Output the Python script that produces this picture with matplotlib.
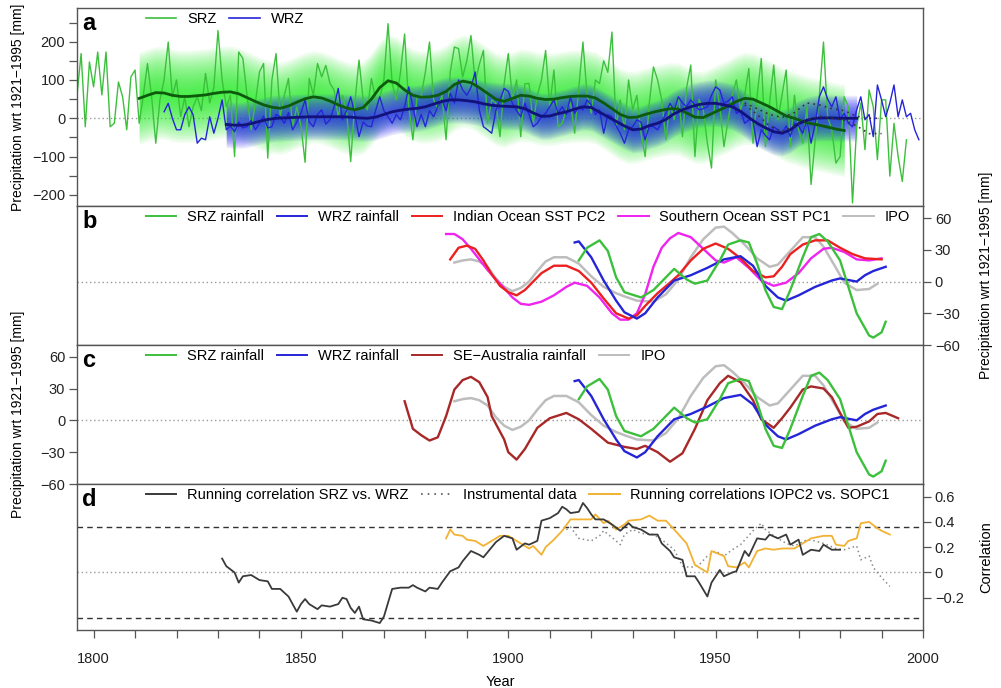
import numpy as np
import matplotlib.pyplot as plt
from matplotlib.lines import Line2D

plt.rcParams['font.family'] = ['Liberation Sans', 'DejaVu Sans']
plt.rcParams['font.size'] = 10.5

# ---------------- panel a: annual series ----------------
srz_start = 1796
srz = [60, 169, -22, 147,
       82, 173, 61, 173, -22, -13, 95, 56, -30, 108,
       126, -13, 60, 143, 56, -65, 48, 100, 199, 56,
       100, 4, 56, -22, 30, 56, 20, 117, 40, 80,
       229, 100, 30, 60, -100, 173, 156, 60, -30, 40,
       121, 143, -104, 100, 169, 4, 60, 104, -22, 30,
       -20, -115, 104, 60, 143, 108, 138, 91, 74, 4,
       60, 20, -113, 40, 152, 48, 22, 104, 50, 52,
       100, 247, 91, 48, 120, 220, 30, -56, 56, 60,
       120, 199, 48, 26, 60, -56, 120, 186, 182, 108,
       150, 216, 95, 140, 177, -13, 48, 40, -48, 90,
       169, 48, 100, -48, 90, 91, -13, 60, 100, 177,
       30, 126, -22, -13, 22, 40, -39, 80, 199, 60,
       13, 100, 91, 150, 120, 225, -22, 48, -30, 100,
       22, 60, -39, -100, 40, 134, 100, 48, -56, 40,
       -4, 60, -48, 80, 139, -100, 50, 22, -65, -130,
       100, 30, -74, -4, 60, 100, 22, 60, 130, -65,
       60, 156, -74, 40, 139, -4, 60, 126, -74, 60,
       -30, -65, 30, -173, -56, 60, 199, 4, -30, -117,
       -100, 56, 30, -221, -22, 40, -82, 74, 30, -108,
       48, 48, -151, -13, -100, -165, -56]

wrz_start = 1817
wrz = [17, 39, 0,
       -30, -30, 10, 30, 9, -65, -52, -56, 4, -39,
       0, 48, -30, -20, -35, -10, -25, -22, -5, -30,
       -13, 5, -25, -22, 10, 4, -13, 15, -30, -10,
       13, 48, -10, -22, 10, 22, -15, -4, 30, 78,
       -4, 20, 56, 10, -48, -10, -20, -22, 20, 56,
       20, 4, -13, 10, -4, 30, 82, 30, -22, 10,
       -22, 20, 4, 30, 48, 20, 65, 40, 100, 74,
       60, 80, 121, 22, -22, -30, -39, 20, 48, 78,
       70, 39, 20, 4, 39, 10, -22, -13, 5, 13,
       30, 48, 13, 30, 10, 56, 13, 30, 22, 48,
       35, 10, 22, -39, 10, 4, -20, -39, -65, -30,
       -22, -4, -10, -56, -20, -22, -30, -10, 13, 39,
       20, 56, 40, 30, 48, 35, 22, 25, 30, 60,
       82, 74, 39, 45, 56, 13, 20, -13, -4, -4,
       -74, -30, -45, -56, -22, -30, -39, -20, -48, -13,
       -20, -39, -4, -65, -13, 56, 82, 50, 30, 56,
       -4, 13, -13, -22, 22, 56, -4, 10, -48, 87,
       48, 4, 40, 87, 4, 48, 4, 13, -30, -56]

srz_smooth_yr = [1811, 1813, 1815, 1817, 1819, 1821, 1823, 1825, 1827, 1829, 1831, 1833,
                 1835, 1837, 1839, 1841, 1843, 1845, 1847, 1849, 1851, 1853, 1855, 1857,
                 1859, 1861, 1863, 1865, 1867, 1869, 1871, 1873, 1875, 1877, 1879, 1881,
                 1883, 1885, 1887, 1889, 1891, 1893, 1895, 1897, 1899, 1901, 1903, 1905,
                 1907, 1909, 1911, 1913, 1915, 1917, 1919, 1921, 1923, 1925, 1927, 1929,
                 1931, 1933, 1935, 1937, 1939, 1941, 1943, 1945, 1947, 1949, 1951, 1953,
                 1955, 1957, 1959, 1961, 1963, 1965, 1967, 1969, 1971, 1973, 1975, 1977,
                 1979, 1981]
srz_smooth = [52, 60, 67, 66, 60, 57, 57, 59, 61, 65, 68, 69,
              64, 54, 44, 35, 29, 26, 32, 42, 51, 56, 53, 45,
              35, 27, 22, 28, 50, 80, 98, 92, 74, 60, 55, 56,
              60, 70, 88, 97, 93, 80, 65, 50, 44, 52, 60, 58,
              52, 49, 50, 54, 57, 58, 58, 53, 40, 25, 10, 2,
              3, 10, 16, 21, 25, 24, 14, 3, 2, 12, 22, 32,
              44, 52, 50, 40, 30, 18, 6, 0, -8, -14, -18, -23,
              -28, -32]

wrz_smooth_yr = [1832, 1834, 1836, 1838, 1840, 1842, 1844, 1846, 1848, 1850, 1852, 1854,
                 1856, 1858, 1860, 1862, 1864, 1866, 1868, 1870, 1872, 1874, 1876, 1878,
                 1880, 1882, 1884, 1886, 1888, 1890, 1892, 1894, 1896, 1898, 1900, 1902,
                 1904, 1906, 1908, 1910, 1912, 1914, 1916, 1918, 1920, 1922, 1924, 1926,
                 1928, 1930, 1932, 1934, 1936, 1938, 1940, 1942, 1944, 1946, 1948, 1950,
                 1952, 1954, 1956, 1958, 1960, 1962, 1964, 1966, 1968, 1970, 1972, 1974,
                 1976, 1978, 1980, 1982, 1984]
wrz_smooth = [-16, -18, -18, -14, -8, -3, 0, 1, 2, 3, 4, 4,
              4, 4, 4, 3, 1, 0, 3, 10, 17, 21, 24, 26,
              30, 37, 44, 48, 48, 46, 43, 38, 34, 32, 31, 30,
              25, 14, 5, 6, 12, 17, 24, 30, 28, 16, 4, -8,
              -20, -30, -28, -19, -13, -3, 12, 22, 30, 36, 39, 39,
              35, 30, 18, 2, -13, -25, -35, -39, -30, -14, -5, 0,
              1, 1, 0, 0, 0]

instr_srz_yr = [1957, 1960, 1963, 1966, 1969, 1972, 1975, 1978, 1981, 1984, 1987, 1990]
instr_srz = [40, 25, 10, 2, 15, 40, 35, 25, 20, 5, 0, 0]
instr_wrz_yr = [1957, 1960, 1963, 1966, 1969, 1972, 1975, 1978, 1981, 1984, 1987, 1990]
instr_wrz = [35, 10, -20, -35, -20, -5, 5, 0, -5, -20, -40, -40]

# ---------------- panels b / c: smoothed series ----------------
srz_rain_yr = [1917, 1919, 1922, 1924, 1926, 1928, 1932, 1935, 1938, 1940, 1943, 1945,
               1948, 1951, 1953, 1956, 1958, 1960, 1962, 1964, 1966, 1968, 1971, 1973,
               1975, 1977, 1980, 1982, 1984, 1987, 1988, 1990, 1991]
srz_rain = [20, 32, 39, 29, 4, -10, -15, -8, 4, 12, 2, -2,
            1, 20, 35, 39, 37, 17, -8, -24, -26, -8, 23, 42,
            45, 38, 20, -5, -30, -51, -53, -48, -38]

wrz_rain_yr = [1916, 1917, 1920, 1923, 1926, 1928, 1931, 1933, 1936, 1940, 1944, 1948,
               1952, 1956, 1959, 1962, 1965, 1967, 1970, 1974, 1978, 1980, 1984, 1986,
               1988, 1991]
wrz_rain = [37, 38, 23, 1, -18, -29, -35, -30, -15, 1, 6, 13,
            21, 24, 15, -4, -15, -18, -13, -5, 1, 3, 0, 6,
            10, 14]

io_pc2_yr = [1886, 1888, 1890, 1892, 1894, 1896, 1898, 1900, 1902, 1904, 1906, 1908,
             1911, 1914, 1917, 1920, 1923, 1926, 1929, 1931, 1933, 1936, 1939, 1941,
             1944, 1947, 1950, 1953, 1956, 1959, 1962, 1964, 1966, 1968, 1971, 1974,
             1977, 1980, 1983, 1986, 1990]
io_pc2 = [21, 32, 34, 31, 20, 7, -4, -10, -13, -8, 0, 8,
          15, 15, 10, -1, -16, -30, -35, -32, -23, -11, -1, 6,
          20, 31, 36, 31, 22, 10, 4, 5, 14, 26, 35, 39,
          39, 32, 26, 22, 21]

so_pc1_yr = [1885, 1887, 1889, 1891, 1893, 1895, 1897, 1899, 1901, 1903, 1905, 1908,
             1911, 1914, 1916, 1919, 1922, 1925, 1927, 1929, 1931, 1933, 1935, 1937,
             1939, 1941, 1944, 1947, 1950, 1952, 1955, 1958, 1961, 1964, 1967, 1970,
             1973, 1976, 1978, 1981, 1984, 1987, 1990]
so_pc1 = [45, 45, 40, 31, 21, 11, 2, -6, -15, -21, -22, -19,
          -13, -5, -1, -4, -15, -30, -36, -36, -30, -12, 14, 32,
          41, 46, 42, 31, 20, 18, 23, 13, 1, -4, -1, 8,
          22, 31, 32, 28, 21, 20, 22]

ipo_yr = [1887, 1889, 1891, 1893, 1895, 1897, 1899, 1901, 1903, 1905, 1907, 1909,
          1911, 1914, 1917, 1920, 1923, 1926, 1928, 1931, 1935, 1938, 1941, 1944,
          1947, 1950, 1952, 1954, 1957, 1960, 1963, 1965, 1968, 1971, 1974, 1976,
          1979, 1981, 1984, 1987, 1989]
ipo = [18, 20, 21, 19, 14, 3, -5, -9, -6, 0, 10, 19,
       23, 23, 17, 5, -5, -11, -14, -18, -19, -12, 2, 23,
       40, 51, 52, 46, 35, 22, 14, 16, 29, 42, 42, 33,
       13, -1, -8, -7, -2]

seaus_yr = [1875, 1877, 1879, 1881, 1883, 1885, 1887, 1889, 1891, 1893, 1895, 1896,
            1899, 1900, 1902, 1904, 1907, 1910, 1914, 1917, 1920, 1924, 1928, 1931,
            1933, 1936, 1939, 1942, 1945, 1948, 1951, 1953, 1956, 1959, 1961, 1964,
            1966, 1968, 1971, 1973, 1976, 1978, 1980, 1982, 1984, 1987, 1989, 1991,
            1994]
seaus = [18, -8, -14, -19, -16, 4, 29, 38, 41, 36, 22, 4,
         -18, -30, -37, -27, -7, 2, 7, 1, -8, -21, -25, -27,
         -24, -30, -39, -31, -8, 19, 35, 42, 36, 19, 1, -7,
         2, 12, 29, 32, 30, 22, 7, -7, -6, -1, 6, 7,
         2]

# ---------------- panel d: running correlations ----------------
rc_yr = [1831, 1832, 1834, 1835, 1836, 1838, 1840, 1842, 1843, 1845, 1847, 1849,
         1850, 1851, 1852, 1854, 1855, 1857, 1859, 1860, 1861, 1862, 1863, 1864,
         1865, 1867, 1869, 1870, 1871, 1872, 1874, 1876, 1877, 1878, 1880, 1881,
         1883, 1884, 1886, 1888, 1889, 1891, 1893, 1894, 1896, 1897, 1899, 1901,
         1902, 1904, 1905, 1907, 1908, 1910, 1912, 1913, 1914, 1915, 1917, 1918,
         1919, 1920, 1921, 1923, 1924, 1925, 1927, 1929, 1930, 1932, 1934, 1936,
         1937, 1939, 1940, 1942, 1943, 1945, 1946, 1948, 1949, 1951, 1952, 1954,
         1955, 1957, 1958, 1959, 1960, 1962, 1963, 1965, 1967, 1968, 1970, 1971,
         1973, 1975, 1976, 1978, 1980]
rc = [0.11, 0.05, 0.0, -0.08, -0.03, -0.02, -0.06, -0.07, -0.13, -0.13, -0.19, -0.31,
      -0.25, -0.21, -0.25, -0.29, -0.26, -0.27, -0.25, -0.2, -0.21, -0.28, -0.32, -0.27,
      -0.37, -0.38, -0.40, -0.35, -0.24, -0.13, -0.12, -0.12, -0.10, -0.12, -0.15, -0.12,
      -0.13, -0.08, 0.01, 0.04, 0.09, 0.17, 0.14, 0.12, 0.20, 0.24, 0.29, 0.27,
      0.18, 0.23, 0.22, 0.25, 0.41, 0.43, 0.47, 0.52, 0.50, 0.47, 0.48, 0.55,
      0.51, 0.46, 0.42, 0.42, 0.40, 0.38, 0.33, 0.39, 0.36, 0.34, 0.30, 0.30,
      0.23, 0.17, 0.12, 0.10, -0.03, -0.03, -0.08, -0.19, -0.08, 0.02, -0.03, 0.0,
      0.01, 0.17, 0.13, 0.20, 0.27, 0.26, 0.30, 0.27, 0.30, 0.22, 0.26, 0.14,
      0.18, 0.17, 0.22, 0.18, 0.18]

rc_oc_yr = [1885, 1886, 1887, 1889, 1890, 1892, 1894, 1896, 1898, 1900, 1901, 1902,
            1903, 1905, 1906, 1908, 1909, 1911, 1913, 1915, 1917, 1920, 1921, 1923,
            1924, 1926, 1928, 1929, 1932, 1934, 1936, 1938, 1940, 1943, 1945, 1947,
            1948, 1949, 1952, 1953, 1955, 1957, 1958, 1960, 1962, 1964, 1966, 1969,
            1971, 1973, 1976, 1978, 1979, 1981, 1982, 1984, 1985, 1987, 1989, 1990,
            1992]
rc_oc = [0.27, 0.34, 0.30, 0.29, 0.26, 0.25, 0.21, 0.25, 0.29, 0.29, 0.27, 0.25,
         0.23, 0.19, 0.21, 0.14, 0.20, 0.26, 0.33, 0.42, 0.42, 0.42, 0.46, 0.39,
         0.41, 0.34, 0.38, 0.41, 0.42, 0.45, 0.41, 0.41, 0.34, 0.23, 0.06, 0.02,
         0.0, 0.17, 0.13, 0.05, 0.04, 0.08, 0.04, 0.17, 0.19, 0.18, 0.19, 0.19,
         0.23, 0.27, 0.29, 0.29, 0.22, 0.21, 0.25, 0.27, 0.39, 0.40, 0.35, 0.33,
         0.30]

rc_instr_yr = [1914, 1915, 1917, 1920, 1922, 1923, 1926, 1927, 1928, 1930, 1932, 1935,
               1937, 1940, 1942, 1944, 1946, 1948, 1950, 1952, 1954, 1956, 1959, 1961,
               1962, 1964, 1967, 1969, 1972, 1974, 1976, 1979, 1981, 1984, 1985, 1987,
               1988, 1990, 1992]
rc_instr = [0.34, 0.36, 0.27, 0.25, 0.29, 0.33, 0.25, 0.22, 0.30, 0.34, 0.31, 0.30,
            0.26, 0.18, 0.05, 0.04, 0.06, 0.13, 0.17, 0.13, 0.18, 0.22, 0.33, 0.39,
            0.34, 0.29, 0.23, 0.21, 0.26, 0.25, 0.23, 0.19, 0.18, 0.21, 0.10, 0.13,
            0.04, -0.04, -0.11]
sig_level = 0.36

# ---------------- colours ----------------
c_srz = '#3cc03c'
c_wrz = '#2525d8'
c_srz_dark = '#0d5a0d'
c_wrz_dark = '#12127a'
c_red = '#ec2020'
c_mag = '#f024f0'
c_ipo = '#bdbdbd'
c_sea = '#a82828'
c_orange = '#f2b233'
c_spine = '#555555'
ylab = 'Precipitation wrt 1921\u22121995 [mm]'

fig = plt.figure(figsize=(10.01, 6.88), dpi=100)
L, W = 0.0769, 0.8452
ax_a = fig.add_axes([L, 0.7006, W, 0.2878])
ax_b = fig.add_axes([L, 0.4985, W, 0.2021])
ax_c = fig.add_axes([L, 0.2965, W, 0.2020])
ax_d = fig.add_axes([L, 0.0843, W, 0.2122])


def style(ax, side):
    ax.set_xlim(1796, 2000)
    for s in ax.spines.values():
        s.set_color(c_spine)
        s.set_linewidth(1.0)
    ax.tick_params(axis='y', direction='out', length=5.5, width=0.9, color=c_spine,
                   labelsize=10.5, labelcolor='#222222', pad=3)
    if side == 'right':
        ax.yaxis.tick_right()
        ax.yaxis.set_label_position('right')
        ax.yaxis.set_label_coords(1.066, 0.5)
    else:
        ax.yaxis.set_label_coords(-0.062, 0.5)
    ax.tick_params(axis='x', bottom=False, labelbottom=False)


def legend(ax, handles, labels):
    ax.legend(handles, labels, loc='upper left', bbox_to_anchor=(0.077, 1.0),
              ncol=len(handles), frameon=False, handlelength=2.1, handletextpad=0.75,
              columnspacing=0.85, borderaxespad=0.0, borderpad=0.25, fontsize=10.5)


def letter(ax, s, h_px):
    ax.text(0.006, 1 - 22.0 / h_px, s, transform=ax.transAxes, fontsize=17,
            fontweight='bold', va='baseline', ha='left')


def zero(ax):
    ax.axhline(0, color='#9a9a9a', lw=1.0, ls=(0, (1, 2)), zorder=0)


# ---------------- panel a ----------------
style(ax_a, 'left')
zero(ax_a)
srz_yr = np.arange(srz_start, srz_start + len(srz))
wrz_yr = np.arange(wrz_start, wrz_start + len(wrz))
s_yr = np.array(srz_smooth_yr)
s_v = np.array(srz_smooth, dtype=float)
w_yr = np.array(wrz_smooth_yr)
w_v = np.array(wrz_smooth, dtype=float)
for w in np.linspace(6, 120, 20):
    ax_a.fill_between(s_yr, s_v - w, s_v + w, color='#22ee22', alpha=0.075, lw=0, zorder=1)
for w in np.linspace(4, 60, 16):
    ax_a.fill_between(w_yr, w_v - w, w_v + w, color='#2a2af2', alpha=0.09, lw=0, zorder=1)
ax_a.plot(srz_yr, srz, color=c_srz, lw=1.0, zorder=2)
ax_a.plot(wrz_yr, wrz, color=c_wrz, lw=1.0, zorder=2)
ax_a.plot(s_yr, s_v, color=c_srz_dark, lw=2.0, zorder=4)
ax_a.plot(w_yr, w_v, color=c_wrz_dark, lw=2.0, zorder=4)
ax_a.plot(instr_srz_yr, instr_srz, color='#333333', lw=1.2, ls=(0, (1, 2.5)), zorder=5)
ax_a.plot(instr_wrz_yr, instr_wrz, color='#333333', lw=1.2, ls=(0, (1, 2.5)), zorder=5)
ax_a.set_ylim(-229, 288)
ax_a.set_yticks(range(-200, 251, 50))
ax_a.set_yticklabels([str(v).replace('-', '\u2212') if v % 100 == 0 else '' for v in range(-200, 251, 50)])
ax_a.set_ylabel(ylab, fontsize=10)
legend(ax_a, [Line2D([], [], color=c_srz, lw=1.2), Line2D([], [], color=c_wrz, lw=1.2)],
       ['SRZ', 'WRZ'])
letter(ax_a, 'a', 198)

# ---------------- panel b ----------------
style(ax_b, 'right')
zero(ax_b)
ax_b.plot(ipo_yr, ipo, color=c_ipo, lw=1.8)
ax_b.plot(so_pc1_yr, so_pc1, color=c_mag, lw=1.7)
ax_b.plot(io_pc2_yr, io_pc2, color=c_red, lw=1.7)
ax_b.plot(wrz_rain_yr, wrz_rain, color=c_wrz, lw=1.7)
ax_b.plot(srz_rain_yr, srz_rain, color=c_srz, lw=1.7)
ax_b.set_ylim(-60, 71.5)
ax_b.set_yticks([-60, -30, 0, 30, 60])
ax_b.set_ylabel(ylab, fontsize=10)
legend(ax_b, [Line2D([], [], color=c, lw=1.4) for c in (c_srz, c_wrz, c_red, c_mag, c_ipo)],
       ['SRZ rainfall', 'WRZ rainfall', 'Indian Ocean SST PC2', 'Southern Ocean SST PC1', 'IPO'])
letter(ax_b, 'b', 139)

# ---------------- panel c ----------------
style(ax_c, 'left')
zero(ax_c)
ax_c.plot(ipo_yr, ipo, color=c_ipo, lw=1.8)
ax_c.plot(seaus_yr, seaus, color=c_sea, lw=1.7)
ax_c.plot(wrz_rain_yr, wrz_rain, color=c_wrz, lw=1.7)
ax_c.plot(srz_rain_yr, srz_rain, color=c_srz, lw=1.7)
ax_c.set_ylim(-60, 71)
ax_c.set_yticks([-60, -30, 0, 30, 60])
ax_c.set_ylabel(ylab, fontsize=10)
legend(ax_c, [Line2D([], [], color=c, lw=1.4) for c in (c_srz, c_wrz, c_sea, c_ipo)],
       ['SRZ rainfall', 'WRZ rainfall', 'SE\u2212Australia rainfall', 'IPO'])
letter(ax_c, 'c', 139)

# ---------------- panel d ----------------
style(ax_d, 'right')
zero(ax_d)
ax_d.axhline(sig_level, color='#333333', lw=1.0, ls=(0, (4, 3)), zorder=0)
ax_d.axhline(-sig_level, color='#333333', lw=1.0, ls=(0, (4, 3)), zorder=0)
ax_d.plot(rc_instr_yr, rc_instr, color='#8a8a8a', lw=1.1, ls=(0, (1, 2)))
ax_d.plot(rc_oc_yr, rc_oc, color=c_orange, lw=1.3)
ax_d.plot(rc_yr, rc, color='#3a3a3a', lw=1.3)
ax_d.set_ylim(-0.455, 0.70)
ax_d.set_yticks([-0.2, 0, 0.2, 0.4, 0.6])
ax_d.set_yticklabels(['\u22120.2', '0', '0.2', '0.4', '0.6'])
ax_d.set_ylabel('Correlation', fontsize=10.5)
ax_d.tick_params(axis='x', bottom=True, labelbottom=True, direction='out', length=6,
                 width=0.9, color=c_spine, labelsize=10.5, labelcolor='#222222', pad=10)
ax_d.set_xticks(range(1800, 2001, 10))
ax_d.set_xticklabels([str(y) if y % 50 == 0 else '' for y in range(1800, 2001, 10)])
ax_d.set_xlabel('Year', labelpad=6)
legend(ax_d, [Line2D([], [], color='#3a3a3a', lw=1.4),
              Line2D([], [], color='#555555', lw=1.2, ls=(0, (1, 3))),
              Line2D([], [], color=c_orange, lw=1.4)],
       ['Running correlation SRZ vs. WRZ', 'Instrumental data',
        'Running correlations IOPC2 vs. SOPC1'])
letter(ax_d, 'd', 146)

fig.savefig('out.png', dpi=100)
